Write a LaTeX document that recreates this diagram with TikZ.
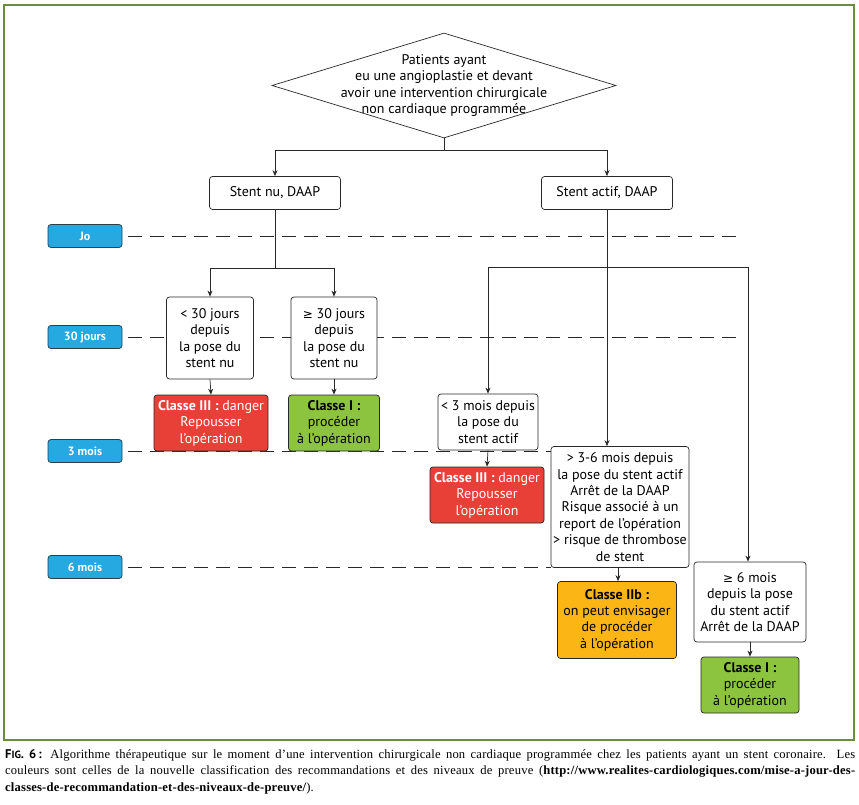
\documentclass[tikz,border=0pt]{standalone}
\usepackage{fontspec}
\setmainfont{PT Sans}
\newfontfamily\capfont[LetterSpace=1.5]{Liberation Serif}
\newfontfamily\figfont{PT Sans}
\newfontfamily\symfont{DejaVu Sans}
\usetikzlibrary{shapes.geometric,arrows.meta}

\definecolor{cadre}{RGB}{106,142,62}
\definecolor{bleu}{RGB}{38,168,224}
\definecolor{rouge}{RGB}{232,64,55}
\definecolor{vert}{RGB}{141,196,63}
\definecolor{jaune}{RGB}{251,182,22}
\definecolor{trait}{RGB}{40,40,40}

\newcommand{\supeg}{{\symfont\fontsize{12}{16}\selectfont ≥}}

\tikzset{
  boite/.style={draw=trait, fill=white, rounded corners=3pt, line width=0.7pt,
    align=center, inner sep=1pt, font=\fontsize{14}{16.4}\selectfont},
  classe/.style={boite, fill=#1},
  temps/.style={draw=trait!80!bleu, fill=bleu, rounded corners=3pt, line width=0.8pt,
    text=white, font=\fontsize{12}{14}\selectfont\bfseries,
    minimum width=74pt, minimum height=23pt, inner sep=0pt},
  fleche/.style={-{Stealth[length=6pt,width=5pt]}, line width=0.7pt, draw=trait},
  lien/.style={line width=0.7pt, draw=trait},
  tiret/.style={line width=0.7pt, draw=trait, dash pattern=on 14pt off 8pt}
}

\begin{document}
\begin{tikzpicture}[x=1pt, y=-1pt]
    \useasboundingbox (0,0) rectangle (859,805);
    \draw[cadre, line width=2pt] (4,5) rectangle (854,740);

    % time scale
    \node[temps] (t0) at (85,236) {Jo};
    \node[temps] (t30) at (85,337) {30 jours};
    \node[temps] (t3) at (85,451) {3 mois};
    \node[temps] (t6) at (85,567) {6 mois};
    \coordinate (fin0) at (740,236);
    \coordinate (fin30) at (740,337);
    \coordinate (fin3) at (551,451);
    \coordinate (fin6) at (551,567);
    \draw[tiret] ([xshift=6pt]t0.east) -- (fin0);
    \draw[tiret] ([xshift=6pt]t30.east) -- (fin30);
    \draw[tiret] ([xshift=6pt]t3.east) -- (fin3);
    \draw[tiret] ([xshift=6pt]t6.east) -- (fin6);

    % top
    \node[diamond, aspect=3.27, draw=trait, line width=0.7pt, fill=white, align=center,
        minimum width=344pt, minimum height=105pt, inner xsep=-12pt, inner ysep=-14pt,
        font=\fontsize{14}{16.2}\selectfont] (diam) at (444,85.5)
        {Patients ayant\\eu une angioplastie et devant\\avoir une intervention chirurgicale\\non cardiaque programmée};
    \node[boite, minimum width=131pt, minimum height=33pt] (nu) at (275,193) {Stent nu, DAAP};
    \node[boite, minimum width=131pt, minimum height=33pt] (actif) at (607,193) {Stent actif, DAAP};

    % stent nu
    \node[boite, minimum width=87pt, minimum height=82pt] (nuA) at (210,338)
        {< 30 jours\\depuis\\la pose du\\stent nu};
    \node[boite, minimum width=86pt, minimum height=82pt] (nuB) at (334,338)
        {\supeg\ 30 jours\\depuis\\la pose du\\stent nu};
    \node[classe=rouge, minimum width=114pt, minimum height=56pt, text=white] (rougeA) at (211,423)
        {\textbf{Classe III :} danger\\Repousser\\l'opération};
    \node[classe=vert, minimum width=91pt, minimum height=56pt] (vertA) at (334,423)
        {\textbf{Classe I :}\\procéder\\à l'opération};

    % stent actif
    \node[boite, minimum width=100pt, minimum height=56pt] (actA) at (488,422)
        {< 3 mois depuis\\la pose du\\stent actif};
    \node[classe=rouge, minimum width=114pt, minimum height=56pt, text=white] (rougeB) at (487,495)
        {\textbf{Classe III :} danger\\Repousser\\l'opération};
    \node[boite, minimum width=138pt, minimum height=121pt] (actB) at (620,507)
        {> 3-6 mois depuis\\la pose du stent actif\\Arrêt de la DAAP\\Risque associé à un\\report de l'opération\\> risque de thrombose\\de stent};
    \node[classe=jaune, minimum width=119pt, minimum height=77pt] (jauneB) at (617,620)
        {\textbf{Classe IIb :}\\on peut envisager\\de procéder\\à l'opération};
    \node[boite, minimum width=112pt, minimum height=80pt] (actC) at (750,602)
        {\supeg\ 6 mois\\depuis la pose\\du stent actif\\Arrêt de la DAAP};
    \node[classe=vert, minimum width=98pt, minimum height=56pt] (vertC) at (750,685)
        {\textbf{Classe I :}\\procéder\\à l'opération};

    % connectors
    \coordinate (s1) at (444,150);
    \coordinate (s2) at (275,268);
    \coordinate (s3) at (607,267);
    \draw[lien] (diam.south) -- (s1);
    \draw[fleche] (s1) -| (nu.north);
    \draw[fleche] (s1) -| (actif.north);
    \draw[lien] (nu.south) -- (s2);
    \draw[fleche] (s2) -| (nuA.north);
    \draw[fleche] (s2) -| (nuB.north);
    \draw[fleche] (nuA.south) -- (rougeA.north);
    \draw[fleche] (nuB.south) -- (vertA.north);
    \draw[lien] (actif.south) -- (s3);
    \draw[fleche] (s3) -| (actA.north);
    \draw[fleche] (s3) -- (s3 |- actB.north);
    \draw[fleche] (s3) -| ([xshift=-2pt]actC.north);
    \draw[fleche] (actA.south) -- (rougeB.north);
    \draw[fleche] ([xshift=-2pt]actB.south) -- ([xshift=-2pt]actB.south |- jauneB.north);
    \draw[fleche] (actC.south) -- (vertC.north);

    % caption
    \node[anchor=north west, inner sep=0pt, text width=850pt, align=justify,
        font=\capfont\fontsize{12.6}{16.5}\selectfont] (legende) at (5,749)
        {{\figfont\bfseries F{\fontsize{10.5}{12}\selectfont IG}. 6\,:} Algorithme thérapeutique sur le moment d’une intervention chirurgicale non cardiaque programmée chez les patients ayant un stent coronaire. Les\linebreak couleurs sont celles de la nouvelle classification des recommandations et des niveaux de preuve (\textbf{http://www.realites-cardiologiques.com/mise-a-jour-des-}\linebreak \textbf{classes-de-recommandation-et-des-niveaux-de-preuve/}).};
\end{tikzpicture}
\end{document}
